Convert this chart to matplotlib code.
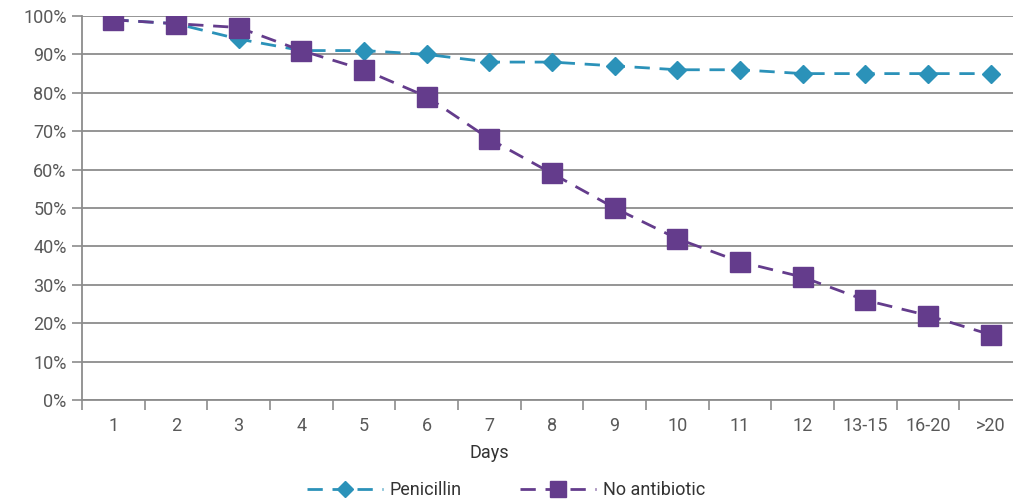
import numpy as np
import matplotlib.pyplot as plt
from matplotlib.ticker import FixedLocator, PercentFormatter

days = ['1', '2', '3', '4', '5', '6', '7', '8', '9', '10', '11', '12', '13-15', '16-20', '>20']
penicillin = [99, 98, 94, 91, 91, 90, 88, 88, 87, 86, 86, 85, 85, 85, 85]
no_antibiotic = [99, 98, 97, 91, 86, 79, 68, 59, 50, 42, 36, 32, 26, 22, 17]

plt.rcParams['font.family'] = ['Roboto', 'DejaVu Sans']
grey = '#595959'
line_grey = '#8c8c8c'

fig = plt.figure(figsize=(10.13, 5.03), dpi=100)
ax = fig.add_axes([82 / 1013, 103 / 503, 940 / 1013, 384 / 503])

x = np.arange(len(days))
ax.plot(x, penicillin, color='#2b92b9', linestyle=(0, (5.5, 3.5)), linewidth=2,
        marker='D', markersize=9.5, label='Penicillin', zorder=3)
ax.plot(x, no_antibiotic, color='#643c8c', linestyle=(0, (5.5, 3.5)), linewidth=2,
        marker='s', markersize=14, label='No antibiotic', zorder=4)

ax.set_xlim(-0.5, len(days) - 0.5)
ax.set_ylim(0, 100)
ax.set_yticks(np.arange(0, 101, 10))
ax.yaxis.set_major_formatter(PercentFormatter(decimals=0))
ax.grid(axis='y', color=line_grey, linewidth=1.3)
ax.set_axisbelow(True)

ax.set_xticks(x)
ax.set_xticklabels(days)
ax.xaxis.set_minor_locator(FixedLocator(np.arange(-0.5, len(days), 1)))
ax.tick_params(axis='x', which='major', length=0, pad=12, labelsize=13, labelcolor=grey)
ax.tick_params(axis='x', which='minor', length=7, width=1.2, color=line_grey, direction='out')
ax.tick_params(axis='y', length=7, width=1.2, color=line_grey, labelsize=13, labelcolor=grey, pad=4)

for s in ['top', 'right']:
    ax.spines[s].set_visible(False)
for s in ['left', 'bottom']:
    ax.spines[s].set_color(line_grey)
    ax.spines[s].set_linewidth(1.3)

fig.text(489 / 1013, 1 - 453 / 503, 'Days', fontsize=13, color='#333333', ha='center', va='center')

fig.legend(loc='center', bbox_to_anchor=(506 / 1013, 1 - 490 / 503), ncol=2, frameon=False,
           fontsize=13, labelcolor='#333333', handlelength=4.2, columnspacing=3.2, handletextpad=0.4,
           markerscale=0.85)

fig.savefig('out.png', dpi=100)
